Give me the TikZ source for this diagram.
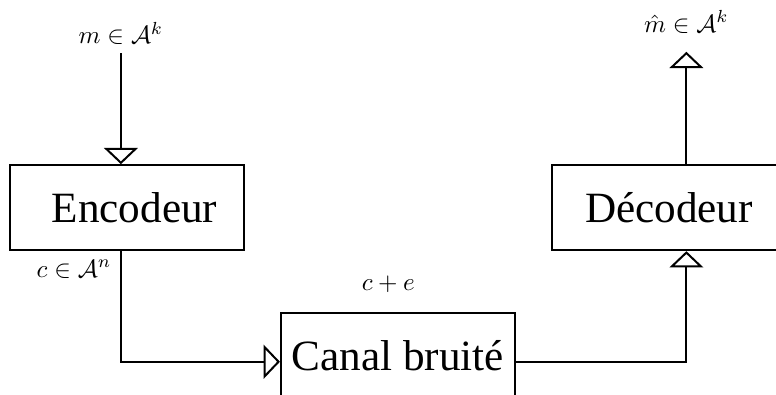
\documentclass[tikz,border=0pt]{standalone}
\usepackage{fontspec}
\setmainfont{Liberation Serif}
\usetikzlibrary{arrows.meta}
\tikzstyle{blk}=[rectangle,draw=black,line width=0.8pt,font=\LARGE,
  minimum width=3.29cm,minimum height=1.195cm,inner sep=0pt]
\tikzstyle{arr}=[line width=0.8pt,-{Triangle[open,width=13.5pt,length=6.5pt]}]

\begin{document}
\begin{tikzpicture}
    \clip (0,0) rectangle (10.91,5.54);
    \node [style=blk] (enc) at (1.79,2.62) {\hspace{2mm}Encodeur};
    \node [style=blk] (dec) at (9.405,2.62) {Décodeur};
    \node [style=blk] (can) at (5.595,0.545) {Canal bruité};
    \node [anchor=base] (mi) at (1.70,4.93) {$m \in \mathcal{A}^k$};
    \node [anchor=base] (mo) at (9.65,5.09) {$\hat{m} \in \mathcal{A}^k$};
    \node [anchor=base] (ci) at (1.04,1.645) {$c \in \mathcal{A}^n$};
    \node [anchor=base] (ce) at (5.46,1.45) {$c + e$};
    \coordinate (k1) at (1.70,0.454);
    \coordinate (k2) at (9.65,0.454);
    \draw [style=arr] (mi) to (mi |- enc.north);
    \draw [style=arr] (enc.south -| k1) to (k1) to (k1 -| can.west);
    \draw [style=arr] (k1 -| can.east) to (k2) to (k2 |- dec.south);
    \draw [style=arr,shorten >=4pt] (dec.north -| mo) to (mo);
\end{tikzpicture}
\end{document}
